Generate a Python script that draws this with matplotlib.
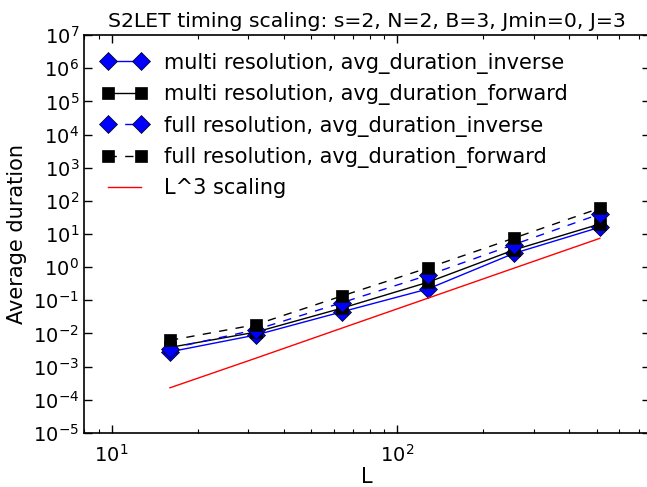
import matplotlib
matplotlib.use("Agg")
import matplotlib.pyplot as plt

# values
L = [16, 32, 64, 128, 256, 512]
multi_inverse = [2.8e-3, 9.0e-3, 0.045, 0.22, 2.6, 16.0]
multi_forward = [3.8e-3, 1.1e-2, 0.058, 0.35, 3.3, 20.0]
full_inverse = [3.5e-3, 1.3e-2, 0.085, 0.57, 4.8, 40.0]
full_forward = [6.2e-3, 1.85e-2, 0.135, 0.95, 7.5, 60.0]
l3_scaling = [2.3e-4, 1.8e-3, 1.45e-2, 0.116, 0.93, 7.4]

plt.rcParams['font.family'] = ['DejaVu Sans']
plt.rcParams['font.size'] = 14

fig = plt.figure(figsize=(6.47, 4.87), dpi=100)
ax = fig.add_axes([0.1298, 0.111, 0.875, 0.817])

mk = dict(mec='k', mew=0.5, lw=1)
ax.loglog(L, multi_inverse, 'bD-', ms=9, label='multi resolution, avg_duration_inverse', **mk)
ax.loglog(L, multi_forward, 'ks-', ms=8, label='multi resolution, avg_duration_forward', **mk)
ax.loglog(L, full_inverse, 'bD--', ms=9, dashes=(6, 6), label='full resolution, avg_duration_inverse', **mk)
ax.loglog(L, full_forward, 'ks--', ms=8, dashes=(6, 6), label='full resolution, avg_duration_forward', **mk)
ax.loglog(L, l3_scaling, 'r-', lw=1, label='L^3 scaling')

ax.set_xlim(8, 768)
ax.set_ylim(1e-5, 1e7)
ax.set_yticks([10.0 ** k for k in range(-5, 8)])
ax.minorticks_on()
ax.yaxis.set_minor_locator(matplotlib.ticker.NullLocator())
ax.tick_params(which='both', direction='in', top=True, right=True)
ax.tick_params(which='major', length=6, width=1)
ax.tick_params(which='minor', length=3, width=0.8)
ax.tick_params(axis='x', pad=8)
for s in ax.spines.values():
    s.set_linewidth(1.2)

ax.set_title('S2LET timing scaling: s=2, N=2, B=3, Jmin=0, J=3', fontsize=14.7)
ax.set_xlabel('L', fontsize=15, labelpad=1)
ax.set_ylabel('Average duration', fontsize=15)

ax.legend(loc='upper left', frameon=False, numpoints=2, prop={'size': 15},
          handlelength=2.2, labelspacing=0.5, borderaxespad=0.45)

fig.savefig('out.png', dpi=100)
